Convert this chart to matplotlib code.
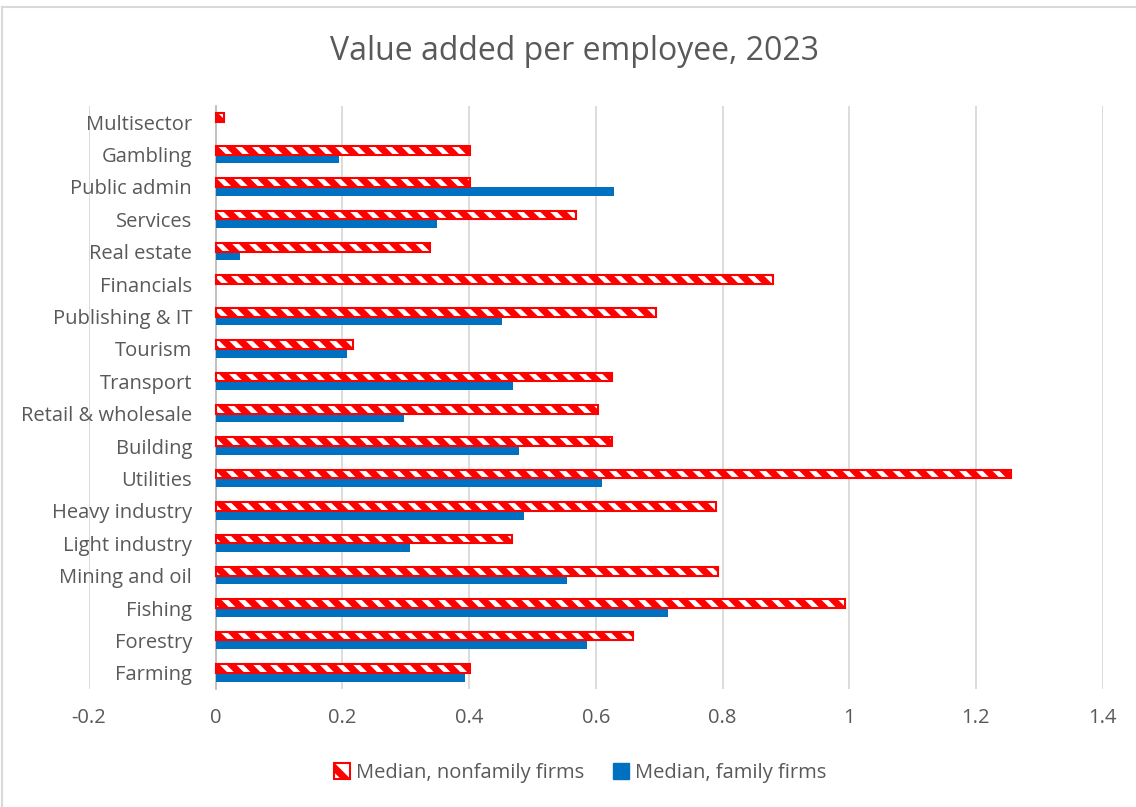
import matplotlib
matplotlib.use("Agg")
import matplotlib.pyplot as plt
import numpy as np
from matplotlib.patches import Patch
from matplotlib.lines import Line2D

categories = ["Farming", "Forestry", "Fishing", "Mining and oil", "Light industry",
              "Heavy industry", "Utilities", "Building", "Retail & wholesale", "Transport",
              "Tourism", "Publishing & IT", "Financials", "Real estate", "Services",
              "Public admin", "Gambling", "Multisector"]
nonfamily = [0.402, 0.658, 0.994, 0.793, 0.467, 0.789, 1.256, 0.625, 0.604, 0.625,
             0.217, 0.695, 0.880, 0.338, 0.569, 0.402, 0.402, 0.013]
family = [0.393, 0.586, 0.714, 0.555, 0.307, 0.487, 0.609, 0.479, 0.297, 0.469,
          0.208, 0.452, 0.0, 0.038, 0.350, 0.629, 0.195, 0.0]
xticks = [-0.2, 0, 0.2, 0.4, 0.6, 0.8, 1, 1.2, 1.4]
xticklabels = ["-0.2", "0", "0.2", "0.4", "0.6", "0.8", "1", "1.2", "1.4"]

plt.rcParams['font.family'] = ['Open Sans', 'DejaVu Sans']
plt.rcParams['hatch.linewidth'] = 5.0
TXT = "#595959"
RED = "#FF0000"
BLUE = "#0070C0"
GRID = "#D9D9D9"

fig = plt.figure(figsize=(11.36, 8.07), dpi=100)
ax = fig.add_axes([89/1136, 118/807, 1013.6/1136, 583/807])

y = np.arange(len(categories))
h = 0.27
ax.barh(y - h/2, family, height=h, color=BLUE, zorder=3)
ax.barh(y + h/2, nonfamily, height=h, facecolor="white", edgecolor=RED,
        hatch="\\\\", linewidth=1.5, zorder=3)

ax.set_xlim(-0.2, 1.4)
ax.set_ylim(-0.5, len(categories) - 0.5)
ax.set_xticks(xticks)
ax.set_xticklabels(xticklabels)
ax.set_yticks(y)
ax.set_yticklabels(categories)
ax.grid(axis="x", color=GRID, linewidth=1.3, zorder=0)
ax.set_axisbelow(True)
for s in ["top", "right", "bottom"]:
    ax.spines[s].set_visible(False)
ax.spines["left"].set_position(("data", 0))
ax.spines["left"].set_color("#BFBFBF")
ax.spines["left"].set_linewidth(1.3)
ax.spines["left"].set_zorder(2)
ax.tick_params(axis="both", length=0, colors=TXT, labelsize=14.5)
ax.tick_params(axis="y", pad=17)
ax.tick_params(axis="x", pad=14)

fig.text(575/1136, 1 - 51/807, "Value added per employee, 2023", ha="center", va="center",
         fontsize=23, color=TXT)

handles = [Patch(facecolor="white", edgecolor=RED, hatch="\\", linewidth=1.5),
           Patch(facecolor=BLUE, edgecolor=BLUE)]
leg = fig.legend(handles, ["Median, nonfamily firms", "Median, family firms"],
                 loc="center", bbox_to_anchor=(580/1136, 1 - 773/807), ncol=2, frameon=False,
                 fontsize=14.5, handlelength=0.8, handleheight=0.8, handletextpad=0.3,
                 columnspacing=1.4)
for t in leg.get_texts():
    t.set_color(TXT)

fig.add_artist(Line2D([2/1136, 2/1136], [0, 1 - 7/807], transform=fig.transFigure,
                      color=GRID, linewidth=1.5))
fig.add_artist(Line2D([2/1136, 1], [1 - 7/807, 1 - 7/807], transform=fig.transFigure,
                      color=GRID, linewidth=1.5))

fig.savefig("out.png", dpi=100)
